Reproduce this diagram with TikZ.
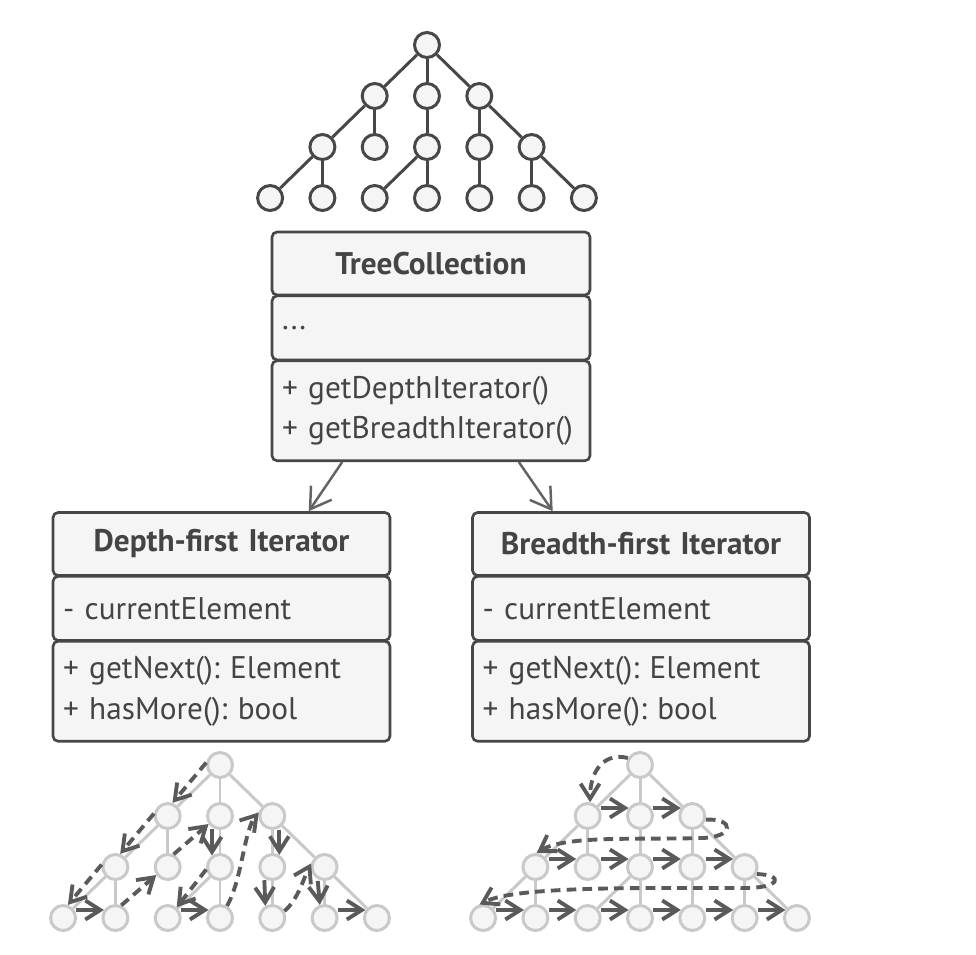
\documentclass[tikz,border=0pt]{standalone}
\usepackage{fontspec}
\setmainfont{PT Sans}
\usetikzlibrary{arrows.meta,calc,positioning}
\definecolor{umlline}{HTML}{474747}
\definecolor{umlfill}{HTML}{F5F5F5}
\definecolor{umltext}{HTML}{444444}
\definecolor{treelight}{HTML}{C9C9C9}
\definecolor{walk}{HTML}{5A5A5A}
\frenchspacing

\begin{document}
\begin{tikzpicture}[x=0.02cm,y=-0.02cm,
    font=\fontsize{17.8pt}{23pt}\selectfont,text=umltext,
    umlpart/.style={draw=umlline,fill=umlfill,line width=1.5pt,rounded corners=1mm,inner xsep=2mm,inner ysep=0pt},
    umlname/.style={umlpart,minimum height=12.6mm,align=center,font=\fontsize{17.8pt}{23pt}\selectfont\bfseries},
    umlfields/.style={umlpart,minimum height=12.8mm,align=left},
    umlmethods/.style={umlpart,minimum height=20mm,align=left},
    darknode/.style={circle,draw=umlline,fill=umlfill,line width=1.7pt,minimum size=5mm,inner sep=0pt},
    darkedge/.style={draw=umlline,line width=1.7pt},
    lightnode/.style={circle,draw=treelight,fill=umlfill,line width=1.7pt,minimum size=5mm,inner sep=0pt},
    lightedge/.style={draw=treelight,line width=1.7pt},
    walkdash/.style={draw=walk,line width=2.2pt,dash pattern=on 5.5pt off 3.5pt,-{Straight Barb[length=3mm,width=3.8mm]}},
    walkstep/.style={draw=walk,line width=2.2pt,shorten <=1pt,-{Straight Barb[length=3mm,width=3.8mm]}},
    umlarrow/.style={draw=umlline!85,line width=1.4pt,-{Straight Barb[length=4mm,width=5mm]}}]
  \useasboundingbox (0,0) rectangle (976,954);

  % the three trees: same shape, two looks
  \foreach \tree/\rx/\ry/\nodelook/\edgelook in {t/427/45/darknode/darkedge, d/220/765/lightnode/lightedge, b/640/765/lightnode/lightedge} {
    \foreach \n/\i/\l in {a4/0/0, b3/-1/1, b4/0/1, b5/1/1, c2/-2/2, c3/-1/2, c4/0/2, c5/1/2, c6/2/2,
        d1/-3/3, d2/-2/3, d3/-1/3, d4/0/3, d5/1/3, d6/2/3, d7/3/3}
      \node[\nodelook] (\tree-\n) at (\rx+\i*52.3,\ry+\l*51) {};
    \foreach \u/\v in {a4/b3, a4/b4, a4/b5, b3/c2, b3/c3, b4/c4, b5/c5, b5/c6,
        c2/d1, c2/d2, c4/d3, c4/d4, c5/d5, c6/d6, c6/d7}
      \draw[\edgelook] (\tree-\u) -- (\tree-\v);
  }

  % classes
  \node[umlname,text width=59.6mm] (tc-name) at (431,263.5) {TreeCollection};
  \node[umlfields,text width=59.6mm,below=-1pt of tc-name] (tc-fields) {...};
  \node[umlmethods,text width=59.6mm,below=-1pt of tc-fields] (tc-methods) {+ getDepthIterator()\\+ getBreadthIterator()};

  \node[umlname,text width=63.4mm] (dfi-name) at (221.5,544) {Depth-first Iterator};
  \node[umlfields,text width=63.4mm,below=-1pt of dfi-name] (dfi-fields) {- currentElement};
  \node[umlmethods,text width=63.4mm,below=-1pt of dfi-fields] (dfi-methods) {+ getNext(): Element\\+ hasMore(): bool};

  \node[umlname,text width=63.4mm] (bfi-name) at (641,544) {Breadth-first Iterator};
  \node[umlfields,text width=63.4mm,below=-1pt of bfi-name] (bfi-fields) {- currentElement};
  \node[umlmethods,text width=63.4mm,below=-1pt of bfi-fields] (bfi-methods) {+ getNext(): Element\\+ hasMore(): bool};

  \draw[umlarrow] ($(tc-methods.south west)!0.223!(tc-methods.south east)$) -- ($(dfi-name.north west)!0.757!(dfi-name.north east)$);
  \draw[umlarrow] ($(tc-methods.south west)!0.774!(tc-methods.south east)$) -- ($(bfi-name.north west)!0.24!(bfi-name.north east)$);

  % depth-first walk
  \draw[walkdash] (d-a4.170) -- (d-b3.70);
  \draw[walkdash] (d-b3.170) -- (d-c2.70);
  \draw[walkdash] (d-c2.170) -- (d-d1.70);
  \draw[walkstep] (d-d1.35) -- (d-d2.145);
  \draw[walkdash] (d-d2.65) -- (d-c3.215);
  \draw[walkdash] (d-c3.65) -- (d-b4.215);
  \draw[walkstep] (d-b4.235) -- (d-c4.125);
  \draw[walkdash] (d-c4.190) -- (d-d3.50);
  \draw[walkstep] (d-d3.35) -- (d-d4.145);
  \draw[walkdash] (d-d4.60) .. controls (242,880) and (244,830) .. (d-b5.165);
  \draw[walkstep] (d-b5.300) -- (d-c5.60);
  \draw[walkstep] (d-c5.235) -- (d-d5.120);
  \draw[walkdash] (d-d5.30) .. controls (298,900) and (305,875) .. (d-c6.165);
  \draw[walkstep] (d-c6.240) -- (d-d6.110);
  \draw[walkstep] (d-d6.35) -- (d-d7.145);

  % breadth-first walk
  \draw[walkdash] (b-a4.150) .. controls (605,752) and (590,770) .. (b-b3.80);
  \draw[walkstep] (b-b3.35) -- (b-b4.145);
  \draw[walkstep] (b-b4.35) -- (b-b5.145);
  \draw[walkdash] (b-b5.345) .. controls (735,818) and (735,838) .. (700,838)
    .. controls (640,840) and (565,835) .. (b-c2.85);
  \foreach \u/\v in {c2/c3, c3/c4, c4/c5, c5/c6}
    \draw[walkstep] (b-\u.35) -- (b-\v.145);
  \draw[walkdash] (b-c6.330) .. controls (785,875) and (780,888) .. (745,888)
    .. controls (640,888) and (515,886) .. (b-d1.105);
  \foreach \u/\v in {d1/d2, d2/d3, d3/d4, d4/d5, d5/d6, d6/d7}
    \draw[walkstep] (b-\u.35) -- (b-\v.145);
\end{tikzpicture}
\end{document}
